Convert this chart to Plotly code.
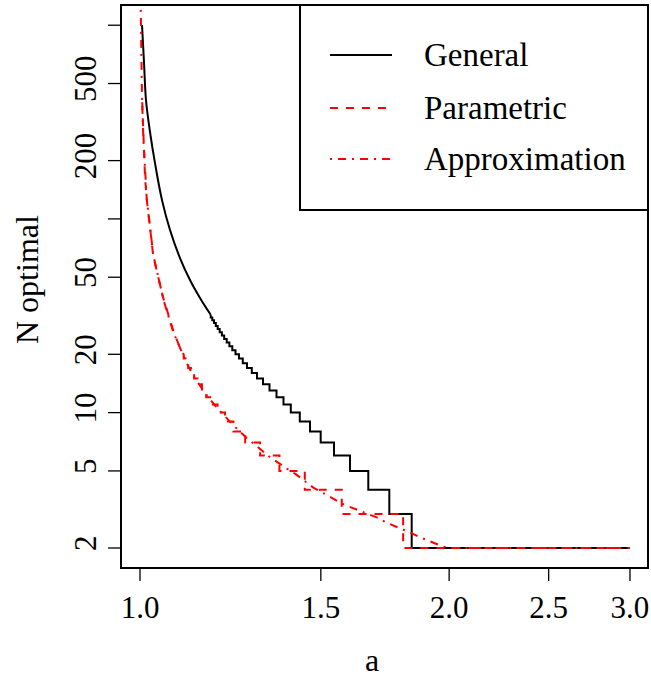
import plotly.graph_objects as go

# ---------------- data ----------------
a_max = 3.0

# General: smooth upper part, then integer steps
gen_smooth_a = [1.0045, 1.0090, 1.0135, 1.0227, 1.0342, 1.0506, 1.0696, 1.0938, 1.1186,
                1.1440, 1.1718]
gen_smooth_n = [1003, 646, 411, 281, 194, 125, 87.6, 62.8, 48.4, 39.1, 32]
gen_levels = [31, 30, 29, 28, 27, 26, 25,
              24, 23, 22, 21, 20, 19, 18, 17, 16, 15, 14, 13, 12, 11, 10, 9, 8, 7, 6, 5, 4, 3, 2]
gen_level_start = [1.1718, 1.1760, 1.1805, 1.1853, 1.1903, 1.1957, 1.2016,
                   1.2078, 1.2146, 1.2219, 1.2299, 1.2388, 1.2485, 1.2592, 1.2711, 1.2849,
                   1.3000, 1.3176, 1.3369, 1.3581, 1.3795, 1.4023, 1.4309, 1.4640, 1.4995,
                   1.5449, 1.6014, 1.6684, 1.7489, 1.8389]

# Parametric: smooth upper part, then integer steps
par_smooth_a = [1.005, 1.0074, 1.0113, 1.0151, 1.0303, 1.0536, 1.0775, 1.098, 1.103]
par_smooth_n = [400, 255, 165, 127, 64, 39, 26.5, 20.5, 20]
par_levels = [19, 18, 17, 16, 15, 14, 13, 12, 11, 10, 9, 8, 7, 6, 5, 4, 3, 2]
par_level_start = [1.103, 1.108, 1.114, 1.121, 1.129, 1.138, 1.149, 1.160, 1.174, 1.190,
                   1.210, 1.233, 1.266, 1.309, 1.367, 1.447, 1.572, 1.804]

# Approximation: smooth curve
app_a = [1.0017, 1.0022, 1.0045, 1.0074, 1.0113, 1.0151, 1.0303, 1.0536, 1.0775, 1.098,
         1.1104, 1.127, 1.144, 1.161, 1.188, 1.233, 1.270, 1.309, 1.338, 1.389, 1.419,
         1.475, 1.58, 1.70, 1.739, 1.824, 1.874, 1.97, 2.0, 3.0]
app_n = [1200, 912, 430, 265, 175, 128, 65, 38.5, 26, 20.4,
         18, 15.5, 13.9, 12.3, 10.6, 8.6, 7.4, 6.5, 5.9, 5.15, 4.8,
         4.1, 3.35, 2.88, 2.7, 2.43, 2.27, 2.04, 2, 2]

x_tickvals = [1.0, 1.5, 2.0, 2.5, 3.0]
x_ticktext = ["1.0", "1.5", "2.0", "2.5", "3.0"]
y_tickvals = [2, 5, 10, 20, 50, 100, 200, 500, 1000]
y_ticktext = ["2", "5", "10", "20", "50", "", "200", "500", ""]

legend_names = ["General", "Parametric", "Approximation"]


def build_steps(start_a, start_n, levels, starts, end):
    xs, ys = [start_a], [start_n]
    ends = starts[1:] + [end]
    for n, s, e in zip(levels, starts, ends):
        xs += [s, e]
        ys += [n, n]
    return xs, ys


gsx, gsy = build_steps(gen_smooth_a[-1], gen_smooth_n[-1], gen_levels, gen_level_start, a_max)
psx, psy = build_steps(par_smooth_a[-1], par_smooth_n[-1], par_levels, par_level_start, a_max)

FONT = "Liberation Serif"
DASH = "8px,8px"
DOTDASH = "2px,6px,8px,6px"

fig = go.Figure()
fig.add_trace(go.Scatter(x=gen_smooth_a, y=gen_smooth_n, mode="lines", name=legend_names[0],
                         line=dict(color="black", width=2, shape="spline", smoothing=1)))
fig.add_trace(go.Scatter(x=gsx, y=gsy, mode="lines", name=legend_names[0],
                         line=dict(color="black", width=2)))
fig.add_trace(go.Scatter(x=par_smooth_a + psx[1:], y=par_smooth_n + psy[1:], mode="lines",
                         name=legend_names[1],
                         line=dict(color="red", width=2, dash=DASH)))
fig.add_trace(go.Scatter(x=app_a, y=app_n, mode="lines", name=legend_names[2],
                         line=dict(color="red", width=2, dash=DOTDASH)))

W, H = 651, 677
L, R, T, B = 121, 3, 5, 109
pw, ph = W - L - R, H - T - B
TICKLEN = 13


def px2paper_x(px):
    return (px - L) / pw


def px2paper_y(py):
    return (H - B - py) / ph


shapes = []
annotations = []
# plot frame
shapes.append(dict(type="rect", xref="paper", yref="paper", x0=0, x1=1, y0=0, y1=1,
                   line=dict(color="black", width=2), layer="above"))
# tick marks, placed through the axes' own scales
for v in x_tickvals:
    shapes.append(dict(type="line", xref="x", yref="paper", x0=v, x1=v,
                       y0=0, y1=-TICKLEN / ph, line=dict(color="black", width=1.3)))
for v in y_tickvals:
    shapes.append(dict(type="line", xref="paper", yref="y", x0=0, x1=-TICKLEN / pw,
                       y0=v, y1=v, line=dict(color="black", width=1.3)))
# legend box
shapes.append(dict(type="rect", xref="paper", yref="paper",
                   x0=px2paper_x(300), x1=1.0, y0=px2paper_y(210), y1=1.0,
                   line=dict(color="black", width=2), fillcolor="white", layer="above"))
rows = [55, 108, 159]
styles = [dict(color="black", width=2),
          dict(color="red", width=2, dash=DASH),
          dict(color="red", width=2, dash=DOTDASH)]
for name, ry, st in zip(legend_names, rows, styles):
    shapes.append(dict(type="line", xref="paper", yref="paper",
                       x0=px2paper_x(330), x1=px2paper_x(392),
                       y0=px2paper_y(ry), y1=px2paper_y(ry), line=st, layer="above"))
    annotations.append(dict(text=name, xref="paper", yref="paper",
                            x=px2paper_x(422), y=px2paper_y(ry), xanchor="left",
                            yanchor="middle", showarrow=False,
                            font=dict(family=FONT, size=33, color="black")))

annotations.append(dict(text="a", xref="paper", yref="paper",
                        x=px2paper_x(372), y=px2paper_y(660), xanchor="center",
                        yanchor="middle", showarrow=False,
                        font=dict(family=FONT, size=32, color="black")))
annotations.append(dict(text="N optimal", xref="paper", yref="paper",
                        x=px2paper_x(27), y=px2paper_y(280), xanchor="center",
                        yanchor="middle", showarrow=False, textangle=-90,
                        font=dict(family=FONT, size=32, color="black")))

fig.update_layout(
    template="none",
    width=W, height=H,
    margin=dict(l=L, r=R, t=T, b=B, pad=0),
    paper_bgcolor="white", plot_bgcolor="white",
    showlegend=False,
    shapes=shapes, annotations=annotations,
    font=dict(family=FONT, size=31, color="black"),
)
fig.update_xaxes(type="log", range=[-0.0185, 0.49467],
                 tickvals=x_tickvals, ticktext=x_ticktext,
                 showgrid=False, zeroline=False, showline=False, automargin=False,
                 ticks="", ticklabelstandoff=18,
                 tickfont=dict(family=FONT, size=31, color="black"))
fig.update_yaxes(type="log", range=[0.19778, 3.10433],
                 tickvals=y_tickvals, ticktext=y_ticktext, tickangle=-90,
                 showgrid=False, zeroline=False, showline=False, automargin=False,
                 ticks="", ticklabelstandoff=18,
                 tickfont=dict(family=FONT, size=31, color="black"))

fig.write_html("out.html")
